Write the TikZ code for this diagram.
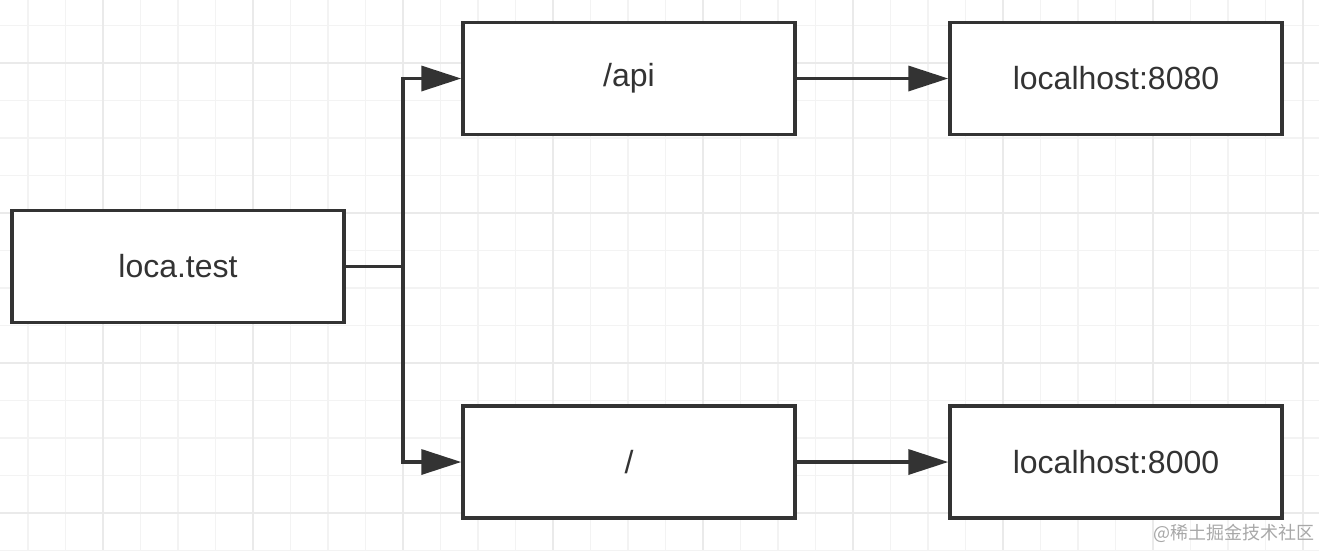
\documentclass[tikz,border=0pt]{standalone}
\usepackage{fontspec}
\setmainfont{Liberation Sans}
\newfontfamily\cjk{Noto Sans CJK SC}
\usetikzlibrary{arrows.meta}
\definecolor{ink}{HTML}{333333}
\definecolor{gridminor}{HTML}{F3F3F3}
\definecolor{gridmajor}{HTML}{EAEAEA}
\definecolor{wm}{HTML}{A8A8A8}
\tikzset{
  box/.style={draw=ink, line width=3.5pt, fill=white, minimum width=332pt, minimum height=112pt, inner sep=0pt, text=ink, font=\fontsize{32}{36}\selectfont},
  conn/.style={draw=ink, line width=3.5pt},
  arr/.style={conn, -{Triangle[length=40pt,width=25pt]}},
}
\begin{document}
\begin{tikzpicture}[x=1pt,y=-1pt]
\useasboundingbox (0,0) rectangle (1319,550);
\fill[white] (0,0) rectangle (1319,550);
% grid
\foreach \i in {0,...,35} {
  \draw[gridminor, line width=1.8pt] ({28+37.5*\i},0) -- ({28+37.5*\i},550);
}
\foreach \i in {0,...,14} {
  \draw[gridminor, line width=1.8pt] (0,{25.5+37.5*\i}) -- (1319,{25.5+37.5*\i});
}
\foreach \i in {0,...,8} {
  \draw[gridmajor, line width=1.8pt] ({103+150*\i},0) -- ({103+150*\i},550);
}
\foreach \i in {0,...,3} {
  \draw[gridmajor, line width=1.8pt] (0,{63+150*\i}) -- (1319,{63+150*\i});
}
% boxes
\node[box] (loca) at (178,266.5) {loca.test};
\node[box] (api) at (629,78.5) {/api};
\node[box] (root) at (629,462) {/};
\node[box] (p8080) at (1116,78.5) {localhost:8080};
\node[box] (p8000) at (1116,462) {localhost:8000};
% connectors
\coordinate (j) at (403,266.5);
\draw[conn] (loca.east) -- (j);
\draw[arr] (j) |- (api.west);
\draw[arr] (j) |- (root.west);
\draw[arr] (api.east) -- (p8080.west);
\draw[arr] (root.east) -- (p8000.west);
% watermark
\node[anchor=east, text=wm, font=\cjk\fontsize{18}{22}\selectfont, inner sep=0pt] (wmk) at (1315,533) {@稀土掘金技术社区};
\end{tikzpicture}
\end{document}
